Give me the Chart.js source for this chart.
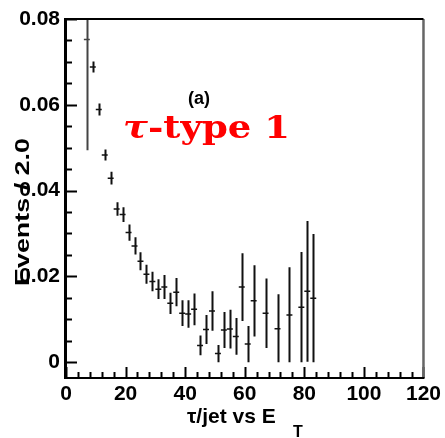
<!DOCTYPE html>
<html>
<head>
<meta charset="utf-8">
<script src="https://cdn.jsdelivr.net/npm/chart.js@4"></script>
<style>
  html, body { margin: 0; padding: 0; background: #fff; }
  canvas { display: block; }
</style>
</head>
<body>
<canvas id="tauChart" width="445" height="438"></canvas>
<script>
// bin centres (width 2.0), contents and errors
var binCenters = [7, 9, 11, 13, 15, 17, 19, 21, 23, 25, 27, 29, 31, 33, 35, 37, 39, 41, 43, 45, 47, 49, 51, 53, 55, 57, 59, 61, 63, 67, 71, 75, 79, 81, 83];
var events = [0.0752, 0.0688, 0.0589, 0.0483, 0.0429, 0.0357, 0.0344, 0.0302, 0.0271, 0.0235, 0.0205, 0.0188, 0.0170, 0.0175, 0.0137, 0.0163, 0.0114, 0.0112, 0.0123, 0.0039, 0.0076, 0.0119, 0.0020, 0.0075, 0.0077, 0.0060, 0.0175, 0.0042, 0.0143, 0.0114, 0.0078, 0.0110, 0.0128, 0.0165, 0.0149];
var errors = [0.0258, 0.0013, 0.0014, 0.0013, 0.0015, 0.0016, 0.0017, 0.0019, 0.0020, 0.0021, 0.0022, 0.0023, 0.0023, 0.0028, 0.0025, 0.0033, 0.0030, 0.0032, 0.0037, 0.0023, 0.0034, 0.0046, 0.0020, 0.0042, 0.0045, 0.0043, 0.0079, 0.0042, 0.0083, 0.0081, 0.0080, 0.0111, 0.0129, 0.0164, 0.0150];
var halfBin = 1.0;

var xTicks = [0, 20, 40, 60, 80, 100, 120];
var yTicks = [0, 0.02, 0.04, 0.06, 0.08];
var xMinorStep = 4;
var yMinorStep = 0.005;

var labelFont = 'bold 21px "Liberation Sans", Arial, sans-serif';

var points = binCenters.map(function (x, i) { return { x: x, y: events[i] }; });

// error bars (vertical = stat. error, horizontal = bin width)
var errorBars = {
    id: 'errorBars',
    afterDatasetsDraw: function (chart) {
        var ctx = chart.ctx, xs = chart.scales.x, ys = chart.scales.y, area = chart.chartArea;
        ctx.save();
        ctx.beginPath();
        ctx.rect(area.left, area.top, area.right - area.left, area.bottom - area.top);
        ctx.clip();
        binCenters.forEach(function (x, i) {
            var px = Math.round(xs.getPixelForValue(x)) + 0.5;
            var py = ys.getPixelForValue(events[i]);
            var top = ys.getPixelForValue(events[i] + errors[i]);
            var bot = ys.getPixelForValue(Math.max(0, events[i] - errors[i]));
            ctx.strokeStyle = i === 0 ? '#444' : '#111';
            ctx.lineWidth = 2;
            ctx.beginPath();
            ctx.moveTo(px, top);
            ctx.lineTo(px, bot);
            ctx.stroke();
            ctx.lineWidth = 1.5;
            ctx.beginPath();
            ctx.moveTo(xs.getPixelForValue(x - halfBin), py);
            ctx.lineTo(xs.getPixelForValue(x + halfBin), py);
            ctx.stroke();
        });
        ctx.restore();
    }
};

// ROOT style frame with inward ticks, titles and labels
var frame = {
    id: 'frame',
    afterDraw: function (chart) {
        var ctx = chart.ctx, xs = chart.scales.x, ys = chart.scales.y, a = chart.chartArea;
        ctx.save();
        ctx.strokeStyle = '#000';
        ctx.lineWidth = 2;
        // x ticks
        for (var v = 0; v <= 120; v += xMinorStep) {
            var px = Math.round(xs.getPixelForValue(v)) + 0.5;
            var len = (v % 20 === 0) ? 11 : 6;
            ctx.beginPath();
            ctx.moveTo(px, a.bottom);
            ctx.lineTo(px, a.bottom - len);
            ctx.stroke();
        }
        // y ticks
        for (var k = 0; k <= 16; k++) {
            var yv = k * yMinorStep;
            var py = Math.round(ys.getPixelForValue(yv)) + 0.5;
            var ylen = (k % 4 === 0) ? 11 : 6;
            ctx.beginPath();
            ctx.moveTo(a.left, py);
            ctx.lineTo(a.left + ylen, py);
            ctx.stroke();
        }
        // box
        ctx.strokeStyle = '#666';
        ctx.lineWidth = 2.5;
        ctx.beginPath();
        ctx.moveTo(a.right, a.top);
        ctx.lineTo(a.right, a.bottom);
        ctx.stroke();
        ctx.strokeStyle = '#000';
        ctx.lineWidth = 2;
        ctx.beginPath();
        ctx.moveTo(a.left, a.top);
        ctx.lineTo(a.right, a.top);
        ctx.moveTo(a.left, a.bottom);
        ctx.lineTo(a.right + 1, a.bottom);
        ctx.stroke();
        ctx.lineWidth = 3;
        ctx.beginPath();
        ctx.moveTo(a.left - 0.5, a.top - 1);
        ctx.lineTo(a.left - 0.5, a.bottom + 1);
        ctx.stroke();

        // y title
        ctx.fillStyle = '#000';
        ctx.font = labelFont;
        ctx.textAlign = 'center';
        ctx.textBaseline = 'middle';
        ctx.save();
        ctx.translate(23, 212);
        ctx.rotate(-Math.PI / 2);
        var yt = 'Events / 2.0';
        ctx.scale(148 / ctx.measureText(yt).width, 1);
        ctx.fillText(yt, 0, 0);
        ctx.restore();

        // x title with subscript
        ctx.textAlign = 'left';
        ctx.textBaseline = 'alphabetic';
        ctx.font = labelFont;
        ctx.fillText('\u03c4/jet vs E', 187, 423);
        ctx.font = 'bold 16px "Liberation Sans", Arial, sans-serif';
        ctx.fillText('T', 293, 437);

        // (a)
        ctx.font = 'bold 18px "Liberation Sans", Arial, sans-serif';
        ctx.textAlign = 'center';
        ctx.fillText('(a)', 199, 104);

        // tau-type label
        ctx.fillStyle = '#ff0000';
        ctx.textAlign = 'left';
        ctx.save();
        ctx.translate(123, 138);
        ctx.font = 'italic bold 31px "DejaVu Serif", serif';
        var w1 = ctx.measureText('\u03c4').width;
        ctx.font = 'bold 31px "DejaVu Serif", serif';
        var w2 = ctx.measureText('-type 1').width;
        ctx.scale(167 / (w1 + w2), 1);
        ctx.font = 'italic bold 31px "DejaVu Serif", serif';
        ctx.fillText('\u03c4', 0, 0);
        ctx.font = 'bold 31px "DejaVu Serif", serif';
        ctx.fillText('-type 1', w1, 0);
        ctx.restore();
        ctx.restore();
    }
};

new Chart(document.getElementById('tauChart').getContext('2d'), {
    type: 'scatter',
    data: {
        datasets: [{
            label: 'tau-type 1',
            data: points,
            pointRadius: 0,
            showLine: false
        }]
    },
    options: {
        responsive: false,
        animation: false,
        devicePixelRatio: 1,
        layout: { padding: { top: 19, right: 18, left: 0, bottom: 0 } },
        plugins: {
            legend: { display: false },
            tooltip: { enabled: false }
        },
        scales: {
            x: {
                type: 'linear',
                min: 0,
                max: 120,
                grid: { display: false, drawTicks: false },
                border: { display: false },
                afterBuildTicks: function (scale) {
                    scale.ticks = xTicks.map(function (v) { return { value: v }; });
                },
                afterFit: function (scale) { scale.height = 60; },
                ticks: {
                    color: '#000',
                    font: { family: '"Liberation Sans", Arial, sans-serif', size: 21, weight: 'bold' },
                    padding: 4,
                    maxRotation: 0,
                    autoSkip: false
                }
            },
            y: {
                type: 'linear',
                min: -0.0037,
                max: 0.08,
                grid: { display: false, drawTicks: false },
                border: { display: false },
                afterBuildTicks: function (scale) {
                    scale.ticks = yTicks.map(function (v) { return { value: v }; });
                },
                afterFit: function (scale) { scale.width = 66; },
                ticks: {
                    color: '#000',
                    font: { family: '"Liberation Sans", Arial, sans-serif', size: 21, weight: 'bold' },
                    padding: 6,
                    autoSkip: false,
                    callback: function (v) { return v === 0 ? '0' : v.toFixed(2); }
                }
            }
        }
    },
    plugins: [errorBars, frame]
});
</script>
</body>
</html>
